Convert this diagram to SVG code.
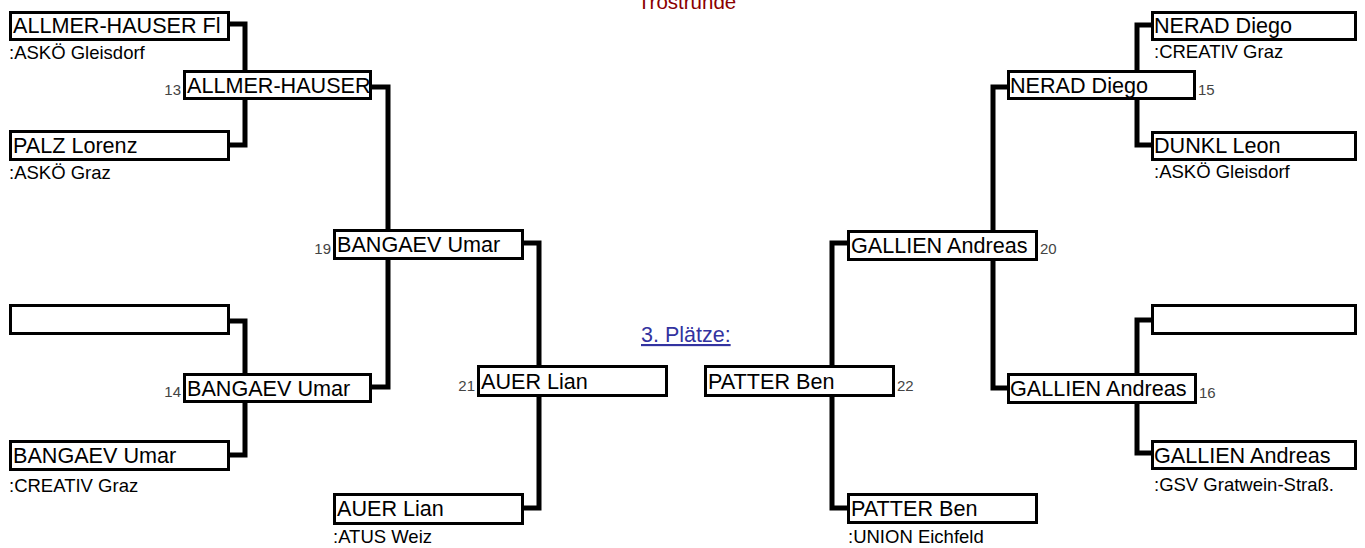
<svg xmlns="http://www.w3.org/2000/svg" width="1365" height="548" viewBox="0 0 1365 548">
<style>
.box{fill:#fff;stroke:#000;stroke-width:3}
.con{fill:none;stroke:#000;stroke-width:5;stroke-linejoin:miter}
.name{font-family:"Liberation Sans",Arial,sans-serif;font-size:21.6px;fill:#000}
.club{font-family:"Liberation Sans",Arial,sans-serif;font-size:18.5px;fill:#000}
.num{font-family:"Liberation Sans",Arial,sans-serif;font-size:15px;fill:#444}
.title{font-family:"Liberation Sans",Arial,sans-serif;font-size:20.5px;fill:#8b0000}
.link{font-family:"Liberation Sans",Arial,sans-serif;font-size:21.5px;fill:#3333a0;text-decoration:underline}
</style>
<rect width="1365" height="548" fill="#fff"/>
<text class="title" x="687" y="9" text-anchor="middle">Trostrunde</text>
<text class="link" x="641" y="342">3. Plätze:</text>
<g id="connectors">
<path class="con" d="M230 24 H245 V145 H230"/>
<path class="con" d="M230 321 H245 V455 H230"/>
<path class="con" d="M372 87 H388 V387 H372"/>
<path class="con" d="M524 243 H539 V508 H524"/>
<path class="con" d="M1151 25 H1137 V145 H1151"/>
<path class="con" d="M1151 320 H1137 V453 H1151"/>
<path class="con" d="M1007 87 H993 V388 H1007"/>
<path class="con" d="M847 243 H832 V508 H847"/>
</g>
<g id="n-l1"><rect class="box" x="10.5" y="12.5" width="218" height="27"/><text class="name" x="13" y="33">ALLMER-HAUSER Fl</text><text class="club" x="9" y="59">:ASKÖ Gleisdorf</text></g>
<g id="n-l2"><rect class="box" x="10.5" y="131.5" width="218" height="28"/><text class="name" x="13" y="153">PALZ Lorenz</text><text class="club" x="9" y="179">:ASKÖ Graz</text></g>
<g id="n-l3"><rect class="box" x="10.5" y="305.5" width="218" height="28"/></g>
<g id="n-l4"><rect class="box" x="10.5" y="441.5" width="218" height="28"/><text class="name" x="13" y="463">BANGAEV Umar</text><text class="club" x="9" y="492">:CREATIV Graz</text></g>
<g id="n-13"><rect class="box" x="184.5" y="71.5" width="186" height="27"/><text class="num" x="181" y="95" text-anchor="end">13</text><text class="name" x="187" y="93">ALLMER-HAUSER</text></g>
<g id="n-14"><rect class="box" x="184.5" y="374.5" width="186" height="27"/><text class="num" x="181" y="397" text-anchor="end">14</text><text class="name" x="187" y="396">BANGAEV Umar</text></g>
<g id="n-19"><rect class="box" x="334.5" y="230.5" width="188" height="28"/><text class="num" x="331" y="254" text-anchor="end">19</text><text class="name" x="337" y="252">BANGAEV Umar</text></g>
<g id="n-21"><rect class="box" x="478.5" y="366.5" width="188" height="29"/><text class="num" x="475" y="391" text-anchor="end">21</text><text class="name" x="481" y="389">AUER Lian</text></g>
<g id="n-auer"><rect class="box" x="334.5" y="494.5" width="188" height="29"/><text class="name" x="337" y="516">AUER Lian</text><text class="club" x="333" y="543">:ATUS Weiz</text></g>
<g id="n-22"><rect class="box" x="705.5" y="366.5" width="188" height="29"/><text class="num" x="897" y="391">22</text><text class="name" x="708" y="389">PATTER Ben</text></g>
<g id="n-20"><rect class="box" x="848.5" y="231.5" width="188" height="28"/><text class="num" x="1040" y="254">20</text><text class="name" x="851" y="253">GALLIEN Andreas</text></g>
<g id="n-patter"><rect class="box" x="848.5" y="494.5" width="188" height="28"/><text class="name" x="851" y="516">PATTER Ben</text><text class="club" x="848" y="543">:UNION Eichfeld</text></g>
<g id="n-15"><rect class="box" x="1008.5" y="71.5" width="186" height="27"/><text class="num" x="1198" y="95">15</text><text class="name" x="1010" y="93">NERAD Diego</text></g>
<g id="n-16"><rect class="box" x="1008.5" y="374.5" width="187" height="28"/><text class="num" x="1199" y="398">16</text><text class="name" x="1010" y="396">GALLIEN Andreas</text></g>
<g id="n-r1"><rect class="box" x="1152.5" y="12.5" width="203" height="27"/><text class="name" x="1154" y="33">NERAD Diego</text><text class="club" x="1154" y="58">:CREATIV Graz</text></g>
<g id="n-r2"><rect class="box" x="1152.5" y="132.5" width="203" height="27"/><text class="name" x="1154" y="153">DUNKL Leon</text><text class="club" x="1154" y="178">:ASKÖ Gleisdorf</text></g>
<g id="n-r3"><rect class="box" x="1152.5" y="305.5" width="203" height="28"/></g>
<g id="n-r4"><rect class="box" x="1152.5" y="441.5" width="203" height="27"/><text class="name" x="1154" y="463">GALLIEN Andreas</text><text class="club" x="1154" y="491">:GSV Gratwein-Straß.</text></g>
</svg>
